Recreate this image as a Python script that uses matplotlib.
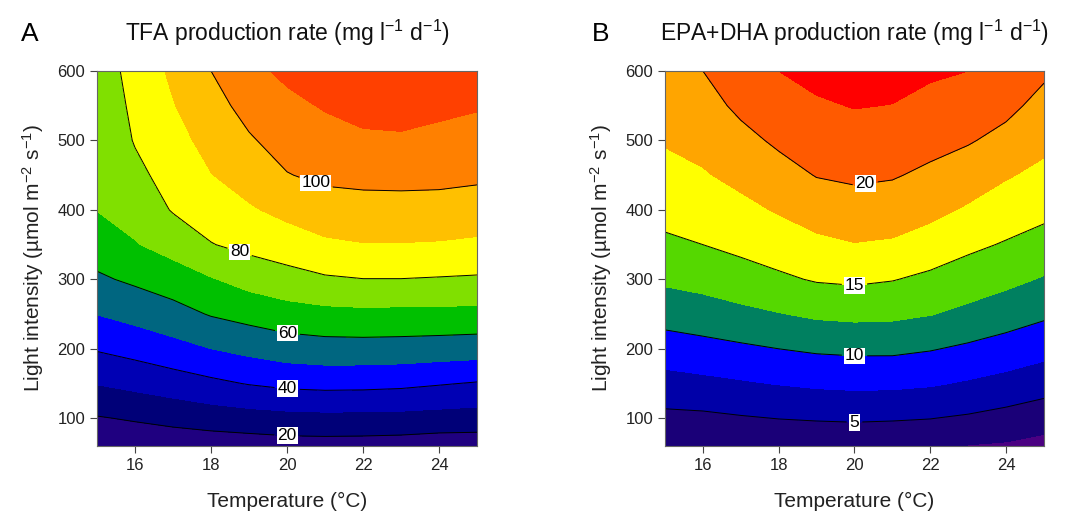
import numpy as np
import matplotlib.pyplot as plt

plt.rcParams['font.family'] = ['Liberation Sans', 'DejaVu Sans']
plt.rcParams['mathtext.fontset'] = 'custom'
plt.rcParams['mathtext.rm'] = 'Liberation Sans'
plt.rcParams['mathtext.it'] = 'Liberation Sans:italic'

# grid
temperature = [15, 16, 17, 18, 19, 20, 21, 22, 23, 24, 25]
light = [60, 100, 150, 200, 250, 300, 350, 400, 450, 500, 550, 600]

# one row per temperature, values along light (60 -> 600)
tfa_by_temp = [
    [12.0, 19.3, 30.4, 40.8, 50.2, 58.5, 64.9, 70.2, 71.3, 72.4, 73.5, 74.5],
    [13.0, 21.0, 32.7, 43.5, 53.2, 61.7, 69.4, 73.6, 77.7, 80.6, 82.0, 83.5],
    [14.0, 22.8, 35.2, 46.7, 56.4, 65.2, 73.7, 80.7, 83.6, 86.6, 89.5, 91.8],
    [14.5, 24.6, 37.9, 50.0, 60.7, 69.3, 79.6, 84.8, 89.7, 93.2, 96.6, 100.0],
    [15.1, 25.9, 40.5, 52.7, 63.4, 73.5, 82.7, 88.9, 94.1, 99.0, 103.1, 107.5],
    [16.0, 26.8, 42.4, 55.1, 65.9, 76.4, 85.2, 92.6, 99.6, 103.7, 107.6, 112.0],
    [16.2, 27.2, 43.1, 56.1, 67.2, 78.8, 88.3, 95.9, 101.9, 106.3, 110.8, 115.3],
    [16.0, 27.1, 42.9, 56.2, 67.7, 79.8, 89.6, 96.5, 102.6, 108.1, 113.6, 118.0],
    [15.5, 26.9, 42.2, 56.0, 67.4, 79.8, 89.6, 96.6, 102.8, 108.5, 114.2, 118.0],
    [14.5, 26.2, 40.7, 55.4, 67.4, 79.3, 89.2, 96.5, 102.5, 107.4, 112.2, 117.0],
    [14.5, 25.6, 39.3, 54.8, 67.1, 78.8, 88.3, 95.6, 101.7, 106.2, 110.8, 115.3],
]

epa_dha_by_temp = [
    [2.45, 4.4, 6.6, 8.8, 11.0, 12.9, 14.6, 15.7, 16.7, 17.7, 18.6, 19.5],
    [2.7, 4.5, 6.9, 9.2, 11.4, 13.3, 15.0, 16.2, 17.3, 18.2, 19.1, 20.0],
    [3.0, 4.8, 7.25, 9.6, 11.9, 13.95, 15.6, 16.9, 18.1, 19.3, 20.5, 21.6],
    [3.1, 5.05, 7.6, 10.0, 12.4, 14.6, 16.2, 17.7, 19.1, 20.4, 21.5, 22.5],
    [3.2, 5.2, 7.9, 10.35, 12.9, 15.2, 16.96, 18.6, 20.1, 21.2, 22.2, 23.2],
    [3.2, 5.3, 8.05, 10.5, 13.1, 15.4, 17.4, 19.0, 20.4, 21.5, 22.6, 23.5],
    [3.2, 5.2, 8.0, 10.5, 13.0, 15.1, 17.2, 18.75, 20.2, 21.3, 22.45, 23.3],
    [3.1, 5.05, 7.75, 10.15, 12.6, 14.5, 16.4, 18.15, 19.5, 20.8, 21.9, 22.8],
    [2.4, 4.7, 7.25, 9.6, 11.9, 13.8, 15.5, 17.2, 18.75, 20.2, 21.4, 22.5],
    [2.2, 4.2, 6.7, 9.0, 11.15, 13.1, 14.8, 16.3, 17.7, 19.3, 20.6, 21.7],
    [1.7, 3.6, 6.05, 8.3, 10.4, 12.3, 14.1, 15.6, 16.9, 18.1, 19.25, 20.4],
]

tfa_fill_levels = [0, 20, 30, 40, 50, 60, 70, 80, 90, 100, 110, 140]
tfa_line_levels = [20, 40, 60, 80, 100]
tfa_colors = ['#1f0080', '#000078', '#0000b4', '#0000ff', '#006680', '#00c000',
              '#80e000', '#ffff00', '#ffc000', '#ff8000', '#ff4000']
tfa_label_pos = [(20.0, 73), (20.0, 141), (20.0, 218), (18.7, 330), (20.7, 430)]

epa_fill_levels = [0, 2.5, 5, 7.5, 10, 12.5, 15, 17.5, 20, 22.5, 30]
epa_line_levels = [5, 10, 15, 20]
epa_colors = ['#4b0082', '#1a0078', '#0000a8', '#0000ff', '#008060', '#55d800',
              '#ffff00', '#ffa500', '#ff5a00', '#ff0000']
epa_label_pos = [(20.0, 94), (20.0, 188), (20.0, 289), (20.3, 431)]

fig = plt.figure(figsize=(10.71, 5.17), dpi=100)
ax_a = fig.add_axes([0.0906, 0.1373, 0.3548, 0.7253])
ax_b = fig.add_axes([0.6209, 0.1373, 0.3539, 0.7253])

T, L = np.meshgrid(temperature, light)

panels = [
    (ax_a, np.array(tfa_by_temp).T, tfa_fill_levels, tfa_colors, tfa_line_levels,
     tfa_label_pos, r'TFA production rate (mg l$^{-1}$ d$^{-1}$)'),
    (ax_b, np.array(epa_dha_by_temp).T, epa_fill_levels, epa_colors, epa_line_levels,
     epa_label_pos, r'EPA+DHA production rate (mg l$^{-1}$ d$^{-1}$)'),
]

for ax, z, fills, cols, lines, lpos, title in panels:
    ax.contourf(T, L, z, levels=fills, colors=cols)
    cs = ax.contour(T, L, z, levels=lines, colors='black', linewidths=0.7)
    labels = ax.clabel(cs, fmt='%d', fontsize=12.5, inline=True, inline_spacing=3,
                       manual=lpos)
    for t in labels:
        t.set_rotation(0)
        t.set_bbox(dict(facecolor='white', edgecolor='none', pad=0.6))
    ax.set_xlim(15, 25)
    ax.set_ylim(60, 600)
    ax.set_xticks([16, 18, 20, 22, 24])
    ax.set_yticks([100, 200, 300, 400, 500, 600])
    ax.tick_params(labelsize=12, length=5, color='#444444', labelcolor='#222222')
    for sp in ax.spines.values():
        sp.set_color('#666666')
        sp.set_linewidth(0.8)
    ax.set_xlabel('Temperature (°C)', fontsize=15, labelpad=14, color='#222222')
    ax.set_ylabel(r'Light intensity (µmol m$^{-2}$ s$^{-1}$)', fontsize=15,
                  labelpad=8, color='#222222')
    ax.set_title(title, fontsize=16.5, pad=22, color='#111111')

fig.text(0.020, 0.935, 'A', fontsize=19, color='black', va='center')
fig.text(0.553, 0.935, 'B', fontsize=19, color='black', va='center')

fig.savefig('out.png', dpi=100)
